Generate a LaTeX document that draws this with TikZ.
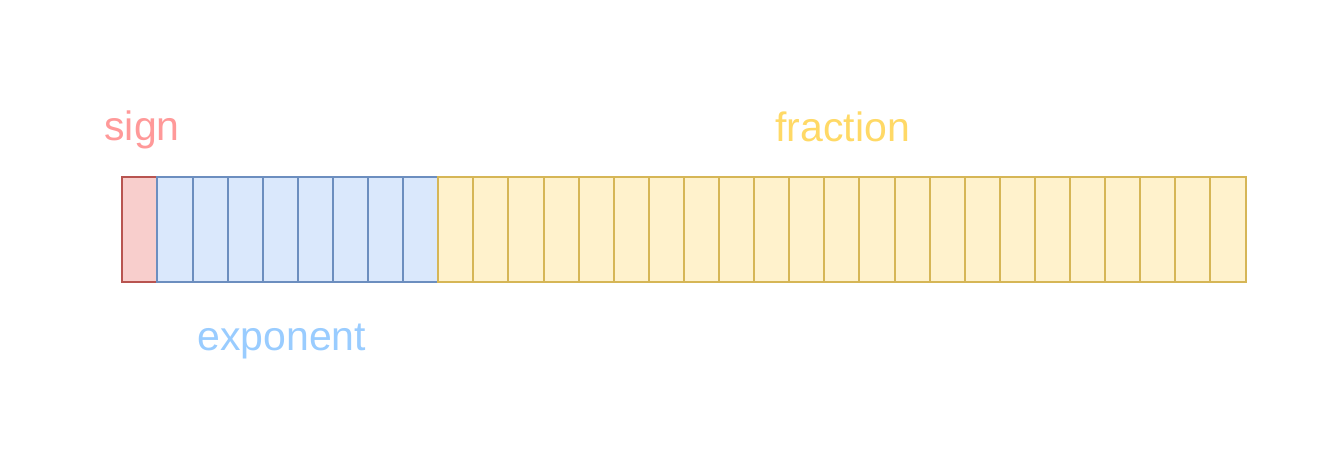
\documentclass[tikz,border=0pt]{standalone}
\usepackage{fontspec}
\setmainfont{Liberation Sans}
\definecolor{signfill}{HTML}{F8CECC}
\definecolor{signdraw}{HTML}{B85450}
\definecolor{expfill}{HTML}{DAE8FC}
\definecolor{expdraw}{HTML}{6C8EBF}
\definecolor{fracfill}{HTML}{FFF2CC}
\definecolor{fracdraw}{HTML}{D6B656}
\definecolor{signtext}{HTML}{FF9999}
\definecolor{exptext}{HTML}{99CCFF}
\definecolor{fractext}{HTML}{FFD966}
\begin{document}
\begin{tikzpicture}[x=0.5pt,y=-0.5pt,
  cell/.style={draw, line width=1pt, minimum width=17.55pt, minimum height=52.8pt, inner sep=0pt, outer sep=0pt, anchor=north west},
  signcell/.style={cell, fill=signfill, draw=signdraw},
  expcell/.style={cell, fill=expfill, draw=expdraw},
  fraccell/.style={cell, fill=fracfill, draw=fracdraw},
  lbl/.style={font=\fontsize{20.5}{24}\selectfont, inner sep=0pt, anchor=base west}]
\useasboundingbox (0,0) rectangle (1320,461);
\node[signcell] (s0) at (122.3,176.7) {};
\foreach \i in {1,...,8} {
  \node[expcell] (e\i) at ({122.3+35.1*\i},176.7) {};
}
\foreach \i in {9,...,31} {
  \node[fraccell] (f\i) at ({122.3+35.1*\i},176.7) {};
}
\node[lbl, text=signtext] (sign) at (104,140) {sign};
\node[lbl, text=exptext] (exponent) at (197,350) {exponent};
\node[lbl, text=fractext] (fraction) at (775,141.5) {fraction};
\end{tikzpicture}
\end{document}
